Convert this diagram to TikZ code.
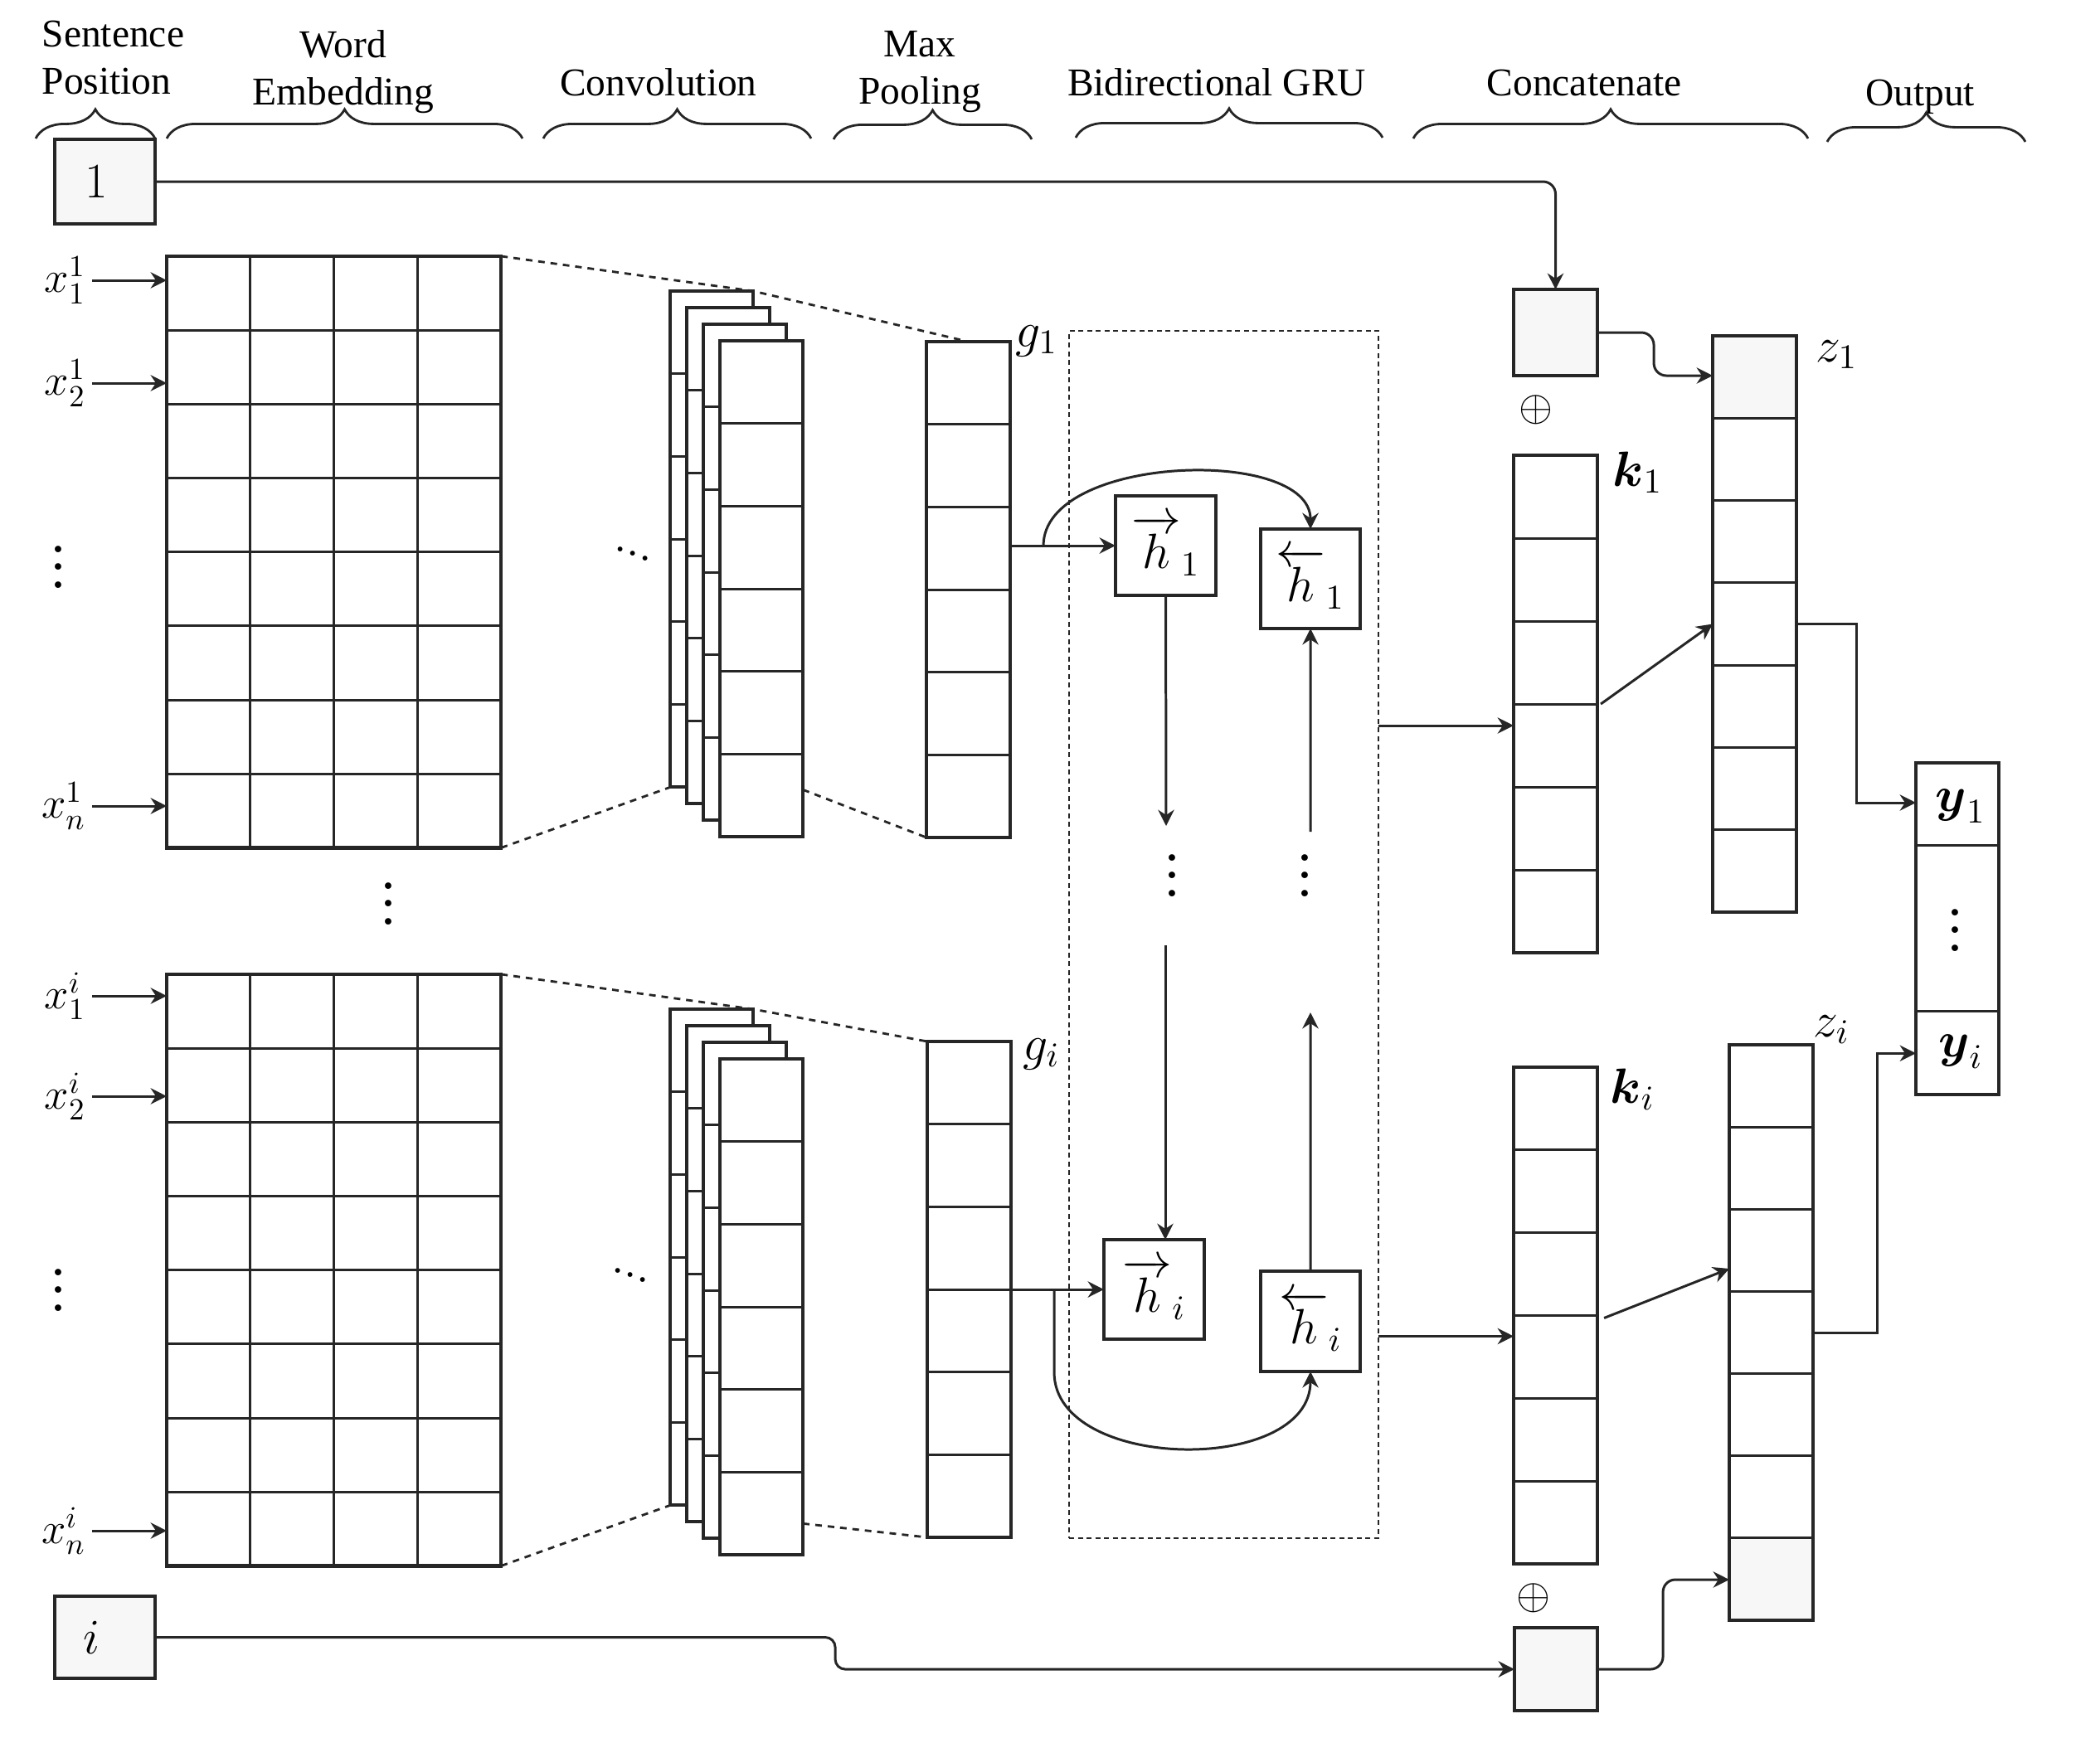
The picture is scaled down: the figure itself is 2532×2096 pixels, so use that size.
\RequirePackage{fix-cm}
\documentclass[tikz,border=0pt]{standalone}
\usepackage{amsmath, amssymb}
\usepackage[no-math]{fontspec}
\setmainfont{Liberation Serif}
\usepackage{tikz}
\usetikzlibrary{positioning, arrows.meta, calc, backgrounds, decorations.pathreplacing}
\definecolor{inkgray}{RGB}{38, 38, 38}
\definecolor{cellfill}{RGB}{247, 247, 247}
\newcommand{\spacedvdots}{\vbox{\baselineskip=6.2pt\lineskiplimit=0pt
  \hbox{$.$}\hbox{$.$}\hbox{$.$}}}

\begin{document}
\begin{tikzpicture}[x=0.01cm, y=-0.01cm,
    box/.style={draw=inkgray, line width=1.1pt, inner sep=0pt, outer sep=0pt, anchor=north west},
    cell/.style={draw=inkgray, line width=0.85pt},
    arr/.style={draw=inkgray, line width=0.85pt, -{Stealth[length=5.5pt, width=5.5pt]}},
    link/.style={draw=inkgray, line width=0.8pt, dash pattern=on 0.08cm off 0.07cm},
    hdr/.style={font=\fontsize{13.5}{16.2}\selectfont, inner sep=0pt},
    lbl/.style={font=\fontsize{17}{20}\selectfont, inner sep=0pt},
    xlbl/.style={font=\fontsize{15}{18}\selectfont, inner sep=0pt},
    dots/.style={font=\fontsize{23}{23}\selectfont, inner sep=0pt},
    brc/.style={draw=inkgray, line width=0.8pt, decorate, decoration={brace, amplitude=10pt}}]
  \useasboundingbox (0,0) rectangle (2532,2096);

  % stage headers
  \node[hdr, anchor=north west, align=left] (hpos) at (50,24) {Sentence\\Position};
  \node[hdr, anchor=north, align=center] (hemb) at (414,36) {Word\\Embedding};
  \node[hdr, anchor=north] (hconv) at (794,82) {Convolution};
  \node[hdr, anchor=north, align=center] (hpool) at (1109,37) {Max\\Pooling};
  \node[hdr, anchor=north] (hgru) at (1467,82) {Bidirectional GRU};
  \node[hdr, anchor=north] (hcat) at (1910,83) {Concatenate};
  \node[hdr, anchor=north] (hout) at (2315,95) {Output};
  \draw[brc] (43,167) -- (187,167);
  \draw[brc] (201,167) -- (630,167);
  \draw[brc] (655,167) -- (978,167);
  \draw[brc] (1005,168) -- (1244,168);
  \draw[brc] (1297,166) -- (1667,166);
  \draw[brc] (1704,167) -- (2180,167);
  \draw[brc] (2203,171) -- (2442,171);

  % sentence positions
  \node[box, lbl, fill=cellfill, minimum width=1.21cm, minimum height=1.02cm] (sp1) at (66,168) {\hspace*{-0.2cm}$1$};
  \node[box, lbl, fill=cellfill, minimum width=1.21cm, minimum height=0.99cm] (spi) at (66,1925) {\hspace*{-0.32cm}$i$};

  % word embedding matrices
  \foreach \mat/\ty in {emb1/309, embi/1175} {
    \node[box, line width=1.25pt, minimum width=4.03cm, minimum height=7.13cm] (\mat) at (201,\ty) {};
    \foreach \c in {1,2,3}
      \draw[cell] ($(\mat.north west)!\c/4!(\mat.north east)$) -- ($(\mat.south west)!\c/4!(\mat.south east)$);
    \foreach \r in {1,...,7}
      \draw[cell] ($(\mat.north west)!\r/8!(\mat.south west)$) -- ($(\mat.north east)!\r/8!(\mat.south east)$);
  }
  \node[xlbl, anchor=east] (x11) at (104,338) {$x_1^1$};
  \node[xlbl, anchor=east] (x21) at (104,462) {$x_2^1$};
  \node[xlbl, anchor=east] (xn1) at (104,972) {$x_n^1$};
  \node[xlbl, anchor=east] (x1i) at (104,1201) {$x_1^i$};
  \node[xlbl, anchor=east] (x2i) at (104,1322) {$x_2^i$};
  \node[xlbl, anchor=east] (xni) at (104,1846) {$x_n^i$};
  \foreach \lab/\mat in {x11/emb1, x21/emb1, xn1/emb1, x1i/embi, x2i/embi, xni/embi}
    \draw[arr] ([xshift=2pt]\lab.east) -- (\lab.east -| \mat.west);
  \node[dots] (vd1) at (71,684) {\spacedvdots};
  \node[dots] (vdi) at (70,1556) {\spacedvdots};
  \node[dots] (vdmid) at (468,1090) {\spacedvdots};

  % convolution feature maps
  \foreach \s/\ty in {1/351, i/1217}
    \foreach \j in {0,...,3} {
      \node[box, fill=white, minimum width=1.0cm, minimum height=5.98cm] (conv\s\j) at ({808+20*\j},{\ty+20*\j}) {};
      \foreach \r in {1,...,5}
        \draw[cell] ($(conv\s\j.north west)!\r/6!(conv\s\j.south west)$) -- ($(conv\s\j.north east)!\r/6!(conv\s\j.south east)$);
    }
  \node[lbl, rotate=-20] (cd1) at (763,668) {$...$};
  \node[lbl, rotate=-20] (cdi) at (760,1538) {$...$};

  % pooled, concatenated and joined vectors
  \foreach \col/\cx/\cy/\ch/\cn in {g1/1117/412/598/6, gi/1118/1256/598/6, k1/1825/549/600/6,
                                   ki/1825/1287/599/6, z1/2065/405/695/7, zi/2085/1260/694/7} {
    \node[box, minimum width=1.01cm, minimum height=\ch*0.01cm] (\col) at (\cx,\cy) {};
    \pgfmathtruncatemacro\nn{\cn-1}
    \foreach \r in {1,...,\nn}
      \draw[cell] ($(\col.north west)!\r/\cn!(\col.south west)$) -- ($(\col.north east)!\r/\cn!(\col.south east)$);
  }
  \begin{scope}[on background layer]
    \fill[cellfill] (z1.north west) rectangle ($(z1.north east)!1/7!(z1.south east)$);
    \fill[cellfill] ($(zi.south west)!1/7!(zi.north west)$) rectangle (zi.south east);
  \end{scope}
  \node[lbl, anchor=base west] (g1lab) at (1224,418) {$g_1$};
  \node[lbl, anchor=base west] (gilab) at (1233,1278) {$g_i$};
  \node[lbl, anchor=base west] (k1lab) at (1944,586) {$\boldsymbol{k}_1$};
  \node[lbl, anchor=base west] (kilab) at (1941,1330) {$\boldsymbol{k}_i$};
  \node[lbl, anchor=base west] (z1lab) at (2189,436) {$z_1$};
  \node[lbl, anchor=base west] (zilab) at (2186,1250) {$z_i$};

  \node[box, fill=cellfill, minimum width=1.01cm, minimum height=1.04cm] (pos1) at (1825,349) {};
  \node[box, fill=cellfill, minimum width=1.0cm, minimum height=1.0cm] (posi) at (1826,1963) {};
  \node[inner sep=0pt, font=\fontsize{15}{15}\selectfont] (op1) at (1852,494) {$\oplus$};
  \node[inner sep=0pt, font=\fontsize{15}{15}\selectfont] (opi) at (1849,1927) {$\oplus$};

  % bidirectional GRU
  \node[box, line width=0.6pt, dash pattern=on 0.06cm off 0.045cm,
        minimum width=3.73cm, minimum height=14.55cm] (gru) at (1289,399) {};
  \node[box, lbl, line width=0.95pt, minimum width=1.21cm, minimum height=1.2cm] (fh1) at (1345,598) {$\overrightarrow{h}_1$};
  \node[box, lbl, line width=0.95pt, minimum width=1.2cm, minimum height=1.2cm] (bh1) at (1520,638) {$\overleftarrow{h}_1$};
  \node[box, lbl, line width=0.95pt, minimum width=1.21cm, minimum height=1.2cm] (fhi) at (1331,1495) {$\overrightarrow{h}_i$};
  \node[box, lbl, line width=0.95pt, minimum width=1.2cm, minimum height=1.21cm] (bhi) at (1520,1533) {$\overleftarrow{h}_i$};
  \node[dots] (vdf) at (1413,1056) {\spacedvdots};
  \node[dots] (vdb) at (1573,1056) {\spacedvdots};

  % output
  \node[box, minimum width=1.0cm, minimum height=4.0cm] (ycol) at (2310,920) {};
  \draw[cell] ($(ycol.north west)+(0,99)$) -- ($(ycol.north east)+(0,99)$);
  \draw[cell] ($(ycol.north west)+(0,299)$) -- ($(ycol.north east)+(0,299)$);
  \node[lbl] (y1) at (2364,972) {$\boldsymbol{y}_1$};
  \node[lbl] (yi) at (2364,1268) {$\boldsymbol{y}_i$};
  \node[dots] (vdy) at (2357,1122) {\spacedvdots};

  % dotted projections
  \draw[link] (emb1.north east) -- (conv10.north east) -- (g1.north);
  \draw[link] (emb1.south east) -- (conv10.south west);
  \draw[link] ($(conv13.south east)+(0,-57)$) -- (g1.south west);
  \draw[link] (embi.north east) -- (convi0.north east) -- (gi.north west);
  \draw[link] (embi.south east) -- (convi0.south west);
  \draw[link] ($(convi3.south east)+(0,-38)$) -- (gi.south west);

  % connectors
  \coordinate (g1split) at ($(g1.east |- fh1.west)+(40,0)$);
  \coordinate (gisplit) at ($(gi.east |- fhi.west)+(52,0)$);
  \coordinate (fdown) at (1406,996);
  \coordinate (bup) at (1580,1003);
  \coordinate (fup) at (1405,1140);
  \coordinate (bdown) at (1580,1221);
  \coordinate (k1in) at ($(k1.west)+(0,26)$);
  \coordinate (kiin) at ($(ki.west)+(0,25)$);
  \draw[arr] (g1.east |- fh1.west) -- (fh1.west);
  \draw[arr] (g1split) .. controls +(0,-110) and +(0,-100) .. (bh1.north);
  \draw[arr] (gi.east |- fhi.west) -- (fhi.west);
  \draw[arr] (gisplit) -- ++(0,100) .. controls +(0,120) and +(0,125) .. (bhi.south);
  \draw[arr] (fh1.south) -- (fdown);
  \draw[arr] (bup) -- (bh1.south);
  \draw[arr] (fup) -- (fup |- fhi.north);
  \draw[arr] (bhi.north) -- (bdown);
  \draw[arr] (gru.east |- k1in) -- (k1in);
  \draw[arr] (gru.east |- kiin) -- (kiin);
  \draw[arr] ($(k1.east)+(4,0)$) -- (z1.west);
  \draw[arr] ($(ki.east)+(8,3)$) -- ($(zi.west)+(0,-77)$);
  \draw[arr] (z1.east) -- ++(72,0) |- ($(ycol.north west)+(0,48)$);
  \draw[arr] (zi.east) -- ++(77,0) |- ($(ycol.south west)+(0,-50)$);
  \draw[arr, rounded corners=0.15cm] (sp1.east) -| (pos1.north);
  \draw[arr, rounded corners=0.12cm] (spi.east) -- ++(820,0) |- (posi.west);
  \draw[arr, rounded corners=0.15cm] (pos1.east) -- ++(68,0) |- ($(z1.north west)+(0,48)$);
  \draw[arr, rounded corners=0.15cm] (posi.east) -- ++(79,0) |- ($(zi.south west)+(0,-49)$);
\end{tikzpicture}
\end{document}
